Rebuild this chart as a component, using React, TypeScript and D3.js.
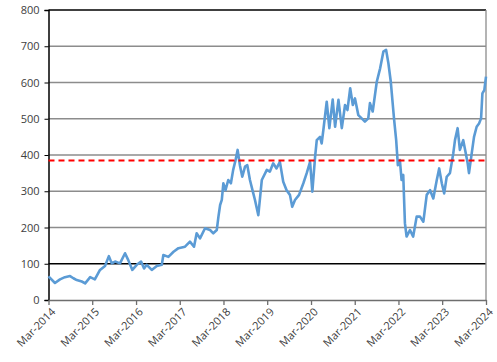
import * as d3 from 'd3';
import { useEffect, useRef } from 'react';

const dates = [
  '2014-03-01', '2014-04-24', '2014-06-05', '2014-07-16', '2014-08-28', '2014-09-25', '2014-10-23',
  '2014-12-04', '2015-01-01', '2015-02-12', '2015-03-23', '2015-05-05', '2015-06-16', '2015-07-18',
  '2015-08-11', '2015-09-08', '2015-10-19', '2015-11-30', '2015-12-27', '2016-01-30', '2016-03-07',
  '2016-04-12', '2016-05-07', '2016-05-29', '2016-07-10', '2016-08-21', '2016-10-02', '2016-10-15',
  '2016-11-26', '2017-01-08', '2017-02-18', '2017-04-14', '2017-05-25', '2017-06-28', '2017-07-20',
  '2017-08-17', '2017-09-28', '2017-11-09', '2017-12-06', '2018-01-04', '2018-01-18', '2018-02-01',
  '2018-02-15', '2018-02-28', '2018-03-18', '2018-04-10', '2018-05-02', '2018-05-21', '2018-06-10',
  '2018-06-27', '2018-07-16', '2018-08-05', '2018-08-28', '2018-09-16', '2018-10-08', '2018-11-05',
  '2018-11-19', '2018-12-17', '2019-01-15', '2019-02-26', '2019-03-23', '2019-04-20', '2019-05-18',
  '2019-06-15', '2019-07-13', '2019-08-10', '2019-09-07', '2019-09-26', '2019-10-19', '2019-11-22',
  '2019-12-28', '2020-01-25', '2020-02-22', '2020-03-12', '2020-04-04', '2020-04-18', '2020-05-15',
  '2020-05-29', '2020-06-12', '2020-07-10', '2020-08-01', '2020-08-29', '2020-09-18', '2020-10-16',
  '2020-11-13', '2020-12-10', '2020-12-30', '2021-01-22', '2021-02-13', '2021-03-03', '2021-03-31',
  '2021-04-28', '2021-05-25', '2021-06-22', '2021-07-06', '2021-07-29', '2021-09-01', '2021-09-29',
  '2021-10-26', '2021-11-18', '2021-12-07', '2021-12-27', '2022-01-24', '2022-02-10', '2022-02-24',
  '2022-03-13', '2022-03-27', '2022-04-10', '2022-04-24', '2022-05-08', '2022-06-05', '2022-07-02',
  '2022-07-31', '2022-08-28', '2022-09-25', '2022-10-23', '2022-11-20', '2022-12-17', '2023-01-15',
  '2023-02-04', '2023-02-26', '2023-03-18', '2023-04-08', '2023-05-05', '2023-06-02', '2023-06-16',
  '2023-07-08', '2023-07-27', '2023-08-24', '2023-09-14', '2023-09-30', '2023-10-11', '2023-11-03',
  '2023-11-22', '2023-12-14', '2024-01-03', '2024-01-20', '2024-01-31', '2024-02-16', '2024-03-01',
];

const values = [
  65, 47, 57, 63, 66, 60, 55,
  51, 46, 63, 57, 83, 94, 121,
  101, 106, 101, 129, 110, 83, 97,
  106, 87, 97, 83, 94, 97, 124,
  119, 133, 143, 147, 161, 147, 184,
  170, 198, 193, 184, 193, 230, 262,
  276, 322, 303, 331, 322, 359, 386,
  414, 372, 340, 368, 372, 331, 294,
  276, 234, 331, 359, 354, 377, 363,
  381, 326, 303, 290, 257, 276, 290,
  322, 350, 381, 299, 395, 441, 450,
  432, 469, 547, 474, 553, 478, 552,
  474, 538, 524, 584, 538, 556, 510,
  501, 492, 501, 543, 520, 602, 639,
  685, 690, 653, 602, 497, 441, 372,
  386, 331, 345, 212, 175, 193, 175,
  230, 230, 216, 290, 303, 280, 331,
  363, 322, 294, 340, 350, 405, 441,
  474, 414, 441, 405, 377, 350, 405,
  450, 478, 487, 501, 570, 579, 616,
];

const threshold = 385;

const yTicks = [0, 100, 200, 300, 400, 500, 600, 700, 800];
const xTickYears = [2014, 2015, 2016, 2017, 2018, 2019, 2020, 2021, 2022, 2023, 2024];

const App = () => {
  const ref = useRef<SVGSVGElement>(null);

  useEffect(() => {
    const width = 497;
    const height = 362;
    const margin = { top: 10, right: 11, bottom: 62, left: 48.5 };

    const svg = d3.select(ref.current);
    svg.selectAll('*').remove();

    const parse = d3.timeParse('%Y-%m-%d');
    const data = dates.map((d, i) => ({ date: parse(d) as Date, val: values[i] }));

    const x = d3.scaleTime()
      .domain([new Date(2014, 2, 1), new Date(2024, 2, 1)])
      .range([margin.left, width - margin.right]);

    const y = d3.scaleLinear()
      .domain([0, 800])
      .range([height - margin.bottom, margin.top]);

    const font = "'Open Sans', 'Noto Sans', sans-serif";

    // horizontal grid lines, 100 and 800 drawn black
    svg.append('g')
      .selectAll('line')
      .data(yTicks.filter(t => t > 0))
      .enter().append('line')
      .attr('x1', margin.left)
      .attr('x2', width - margin.right)
      .attr('y1', d => y(d))
      .attr('y2', d => y(d))
      .attr('stroke', d => (d === 100 || d === 800 ? '#000' : '#8c8c8c'))
      .attr('stroke-width', 1.3);

    // right border
    svg.append('line')
      .attr('x1', width - margin.right)
      .attr('x2', width - margin.right)
      .attr('y1', margin.top)
      .attr('y2', height - margin.bottom)
      .attr('stroke', '#8c8c8c')
      .attr('stroke-width', 1.3);

    // y axis
    const yAxis = svg.append('g')
      .attr('transform', `translate(${margin.left},0)`)
      .call(d3.axisLeft(y).tickValues(yTicks).tickSize(4).tickPadding(5));
    yAxis.select('.domain').attr('stroke', '#000').attr('stroke-width', 1.5);
    yAxis.selectAll('.tick line').attr('stroke', '#000');
    yAxis.selectAll('text')
      .attr('fill', '#404040')
      .style('font-family', font)
      .style('font-size', '11px');

    // x axis
    const xAxis = svg.append('g')
      .attr('transform', `translate(0,${height - margin.bottom})`)
      .call(d3.axisBottom(x)
        .tickValues(xTickYears.map(yr => new Date(yr, 2, 1)))
        .tickFormat(d => d3.timeFormat('%b-%Y')(d as Date))
        .tickSize(5)
        .tickSizeOuter(0));
    xAxis.select('.domain').attr('stroke', '#6e6e6e').attr('stroke-width', 1.5);
    xAxis.selectAll('.tick line').attr('stroke', '#6e6e6e').attr('stroke-width', 1.3);
    xAxis.selectAll('text')
      .attr('fill', '#404040')
      .style('font-family', font)
      .style('font-size', '11px')
      .style('text-anchor', 'end')
      .attr('dx', '-0.35em')
      .attr('dy', '0.55em')
      .attr('transform', 'rotate(-45)');

    // price line
    const line = d3.line<{ date: Date; val: number }>()
      .x(d => x(d.date))
      .y(d => y(d.val));

    svg.append('path')
      .datum(data)
      .attr('d', line)
      .attr('fill', 'none')
      .attr('stroke', '#5b9bd5')
      .attr('stroke-width', 2.6)
      .attr('stroke-linejoin', 'round');

    // red dashed reference level
    svg.append('line')
      .attr('x1', margin.left)
      .attr('x2', width - margin.right)
      .attr('y1', y(threshold))
      .attr('y2', y(threshold))
      .attr('stroke', '#ff0000')
      .attr('stroke-width', 2)
      .attr('stroke-dasharray', '6,4');
  }, []);

  return (
    <svg ref={ref} width={497} height={362} style={{ position: 'absolute', left: 0, top: 0, background: 'white' }} />
  );
};

export default App;
